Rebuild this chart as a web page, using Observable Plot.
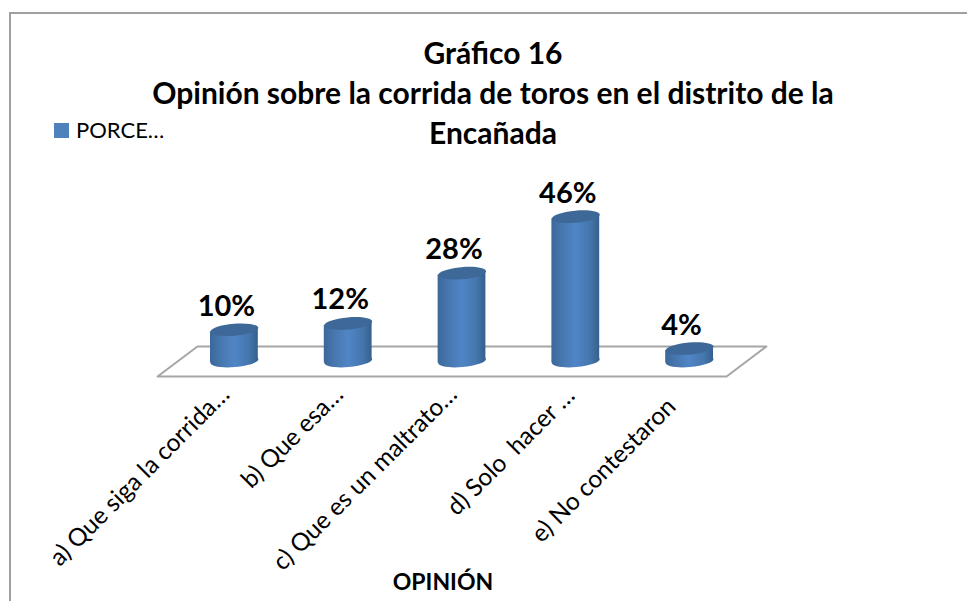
<!DOCTYPE html>
<html lang="es">
<head>
<meta charset="utf-8">
<script src="https://cdn.jsdelivr.net/npm/d3@7"></script>
<script src="https://cdn.jsdelivr.net/npm/@observablehq/plot@0.6"></script>
<style>
  html, body { margin: 0; padding: 0; background: #fff; }
  #page { position: relative; width: 967px; height: 601px; overflow: hidden; font-family: Lato, "Open Sans", sans-serif; color: #000; }
  #frame { position: absolute; left: 9px; top: 12px; right: -4px; bottom: -4px; border-top: 2px solid #a0a0a0; border-left: 2px solid #a0a0a0; }
  #head { position: relative; height: 150px; }
  #title { position: absolute; left: 93px; width: 800px; top: 32px; text-align: center; font-weight: 700; font-size: 30px; line-height: 40px; }
  #legend { position: absolute; left: 54px; top: 116px; display: flex; align-items: center; font-size: 22px; line-height: 28px; }
  #legend i { display: block; width: 15px; height: 15px; background: #4f81bd; margin-right: 7px; }
  #chart svg { display: block; }
</style>
</head>
<body>
<div id="page">
  <div id="frame"></div>
  <div id="head">
    <div id="title">Gráfico 16<br>Opinión sobre la corrida de toros en el distrito de la<br>Encañada</div>
    <div id="legend"><i></i><span>PORCE…</span></div>
  </div>
  <div id="chart"></div>
</div>
<script>
const categories = ["a) Que siga la corrida…", "b) Que esa…", "c) Que es un maltrato…", "d) Solo  hacer …", "e) No contestaron"];
const percents = [10, 12, 28, 46, 4];
const floorX = [-0.675, -0.325, 4.675, 4.325, -0.675];
const floorY = [-4.9, 4.65, 4.65, -4.9, -4.9];
const labelDx = [-9, -9, -9, -5, -18];
const labelDy = [3, 3, 3, 4, 15];

const rows = categories.map((c, i) => ({i, c, v: percents[i]}));
const halfWidth = 0.21;
const tilt = 0.64;
const sides = rows.flatMap(d => [
  {i: d.i, x: d.i - halfWidth, y1: -tilt, y2: d.v - tilt},
  {i: d.i, x: d.i + halfWidth, y1: tilt, y2: d.v + tilt}
]);

const tiltedEllipse = {
  draw(ctx, size) {
    const rx = Math.sqrt(size / Math.PI), ry = rx / 4, k = 0.5523;
    const a = -4.8 * Math.PI / 180, c = Math.cos(a), s = Math.sin(a);
    const p = (x, y) => [x * c - y * s, x * s + y * c];
    const curve = (p1, p2, p3) => ctx.bezierCurveTo(...p(...p1), ...p(...p2), ...p(...p3));
    ctx.moveTo(...p(rx, 0));
    curve([rx, k * ry], [k * rx, ry], [0, ry]);
    curve([-k * rx, ry], [-rx, k * ry], [-rx, 0]);
    curve([-rx, -k * ry], [-k * rx, -ry], [0, -ry]);
    curve([k * rx, -ry], [rx, -k * ry], [rx, 0]);
    ctx.closePath();
  }
};

const gradientDefs = () => {
  const svg = document.createElementNS("http://www.w3.org/2000/svg", "g");
  svg.innerHTML = `<defs><linearGradient id="cyl" x1="0" x2="1" y1="0" y2="0">
    <stop offset="0" stop-color="#3b6899"/><stop offset="0.2" stop-color="#4676ad"/>
    <stop offset="0.5" stop-color="#5085c6"/><stop offset="0.8" stop-color="#4577ae"/>
    <stop offset="1" stop-color="#35608c"/></linearGradient></defs>`;
  return svg;
};

const plot = Plot.plot({
  width: 967,
  height: 451,
  marginTop: 0, marginLeft: 0, marginRight: 0, marginBottom: 216,
  style: {fontFamily: "Lato, 'Open Sans', sans-serif", background: "transparent", overflow: "visible"},
  x: {domain: [-0.5, 4.5], range: [177, 746], axis: null},
  y: {domain: [0, 50], range: [210.6, 53.6], axis: null},
  marks: [
    gradientDefs,
    Plot.line(floorX.map((x, j) => ({x, y: floorY[j]})), {x: "x", y: "y", stroke: "#a6a6a6", strokeWidth: 2, curve: "linear"}),
    Plot.dot(rows, {x: "i", y: () => 0, r: 24, symbol: tiltedEllipse, fill: "url(#cyl)", stroke: "none"}),
    Plot.areaY(sides, {x: "x", y1: "y1", y2: "y2", z: "i", fill: "url(#cyl)", curve: "linear"}),
    Plot.dot(rows, {x: "i", y: "v", r: 24, symbol: tiltedEllipse, fill: "#3d6897", stroke: "none"}),
    Plot.text(rows, {x: "i", y: "v", text: d => d.v + "%", dx: -8, dy: -14, lineAnchor: "bottom", fontSize: 29, fontWeight: 700, fill: "#000"}),
    categories.map((c, i) => Plot.axisX({ticks: [i], tickFormat: () => c, tickRotate: -45, tickSize: 0, tickPadding: 2, dx: labelDx[i], dy: labelDy[i], fontSize: 24.5, label: null})),
    Plot.text(["OPINIÓN"], {frameAnchor: "bottom", dx: -41, dy: 204, fontSize: 23, fontWeight: 700, fill: "#000"})
  ]
});
document.getElementById("chart").append(plot);
</script>
</body>
</html>
